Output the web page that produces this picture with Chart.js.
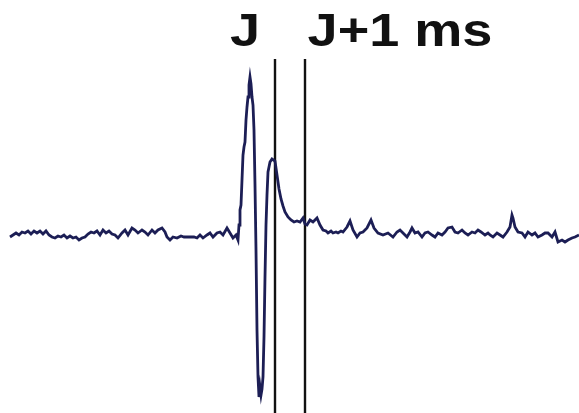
<!DOCTYPE html>
<html>
<head>
<meta charset="utf-8">
<script src="https://cdn.jsdelivr.net/npm/chart.js@4/dist/chart.umd.min.js"></script>
<style>
  html, body { margin: 0; padding: 0; background: #ffffff; }
  canvas { display: block; }
</style>
</head>
<body>
<canvas id="c" width="579" height="413"></canvas>
<script>
// Time positions (sample units) and amplitudes (baseline = 0)
const time = [
  10,13,16,19,22,25,28,31,34,37,40,43,46,49,52,55,58,61,64,67,70,73,76,79,82,85,88,91,94,97,
  100,103,106,109,112,115,118,122,125,128,132,135,138,142,145,148,152,155,158,162,165,167,170,173,177,181,184,187,190,194,
  197,200,203,207,210,213,217,220,223,227,230,233,236,238,
  239,240,241,242,243,244,245,246,247,248,249,250,251,252,253,254,255,256,257,258,259,260,261,262,263,264,265,266,267,268,
  270,272,275,277,279,281,283,285,288,291,294,297,
  300,303,305,307,310,313,317,320,323,326,328,331,333,336,338,341,343,347,350,353,357,360,363,367,371,374,378,383,388,393,
  397,400,403,407,410,412,415,418,422,425,428,432,435,438,442,445,448,452,455,458,462,465,468,472,475,478,481,485,488,490,
  493,497,500,503,507,510,512,513,515,518,522,525,528,532,535,538,542,545,548,552,555,558,562,565,568,572,575,579
];
const amplitude = [
  0,2,4,2,5,4,6,3,6,4,6,3,6,2,0,-1,1,0,2,-1,1,-1,0,-3,-1,0,3,5,4,6,
  2,7,4,6,3,2,-1,4,7,2,9,7,4,7,5,2,7,4,7,9,5,0,-3,0,-1,1,0,0,0,0,
  -1,2,-1,2,4,0,4,5,2,9,4,-1,2,-3,
  12,27,32,57,82,90,95,117,130,140,152,160,153,140,132,107,52,-13,-93,-140,-160,-150,-158,-152,-140,-100,-40,12,42,65,
  75,78,76,62,48,38,31,25,20,17,15,16,
  15,19,13,12,17,15,19,12,7,6,4,6,4,5,4,6,5,10,16,7,0,4,5,9,17,9,4,2,4,0,
  5,7,4,0,5,9,4,5,0,4,5,2,0,4,2,5,9,10,5,4,7,4,2,5,4,7,5,2,4,2,
  0,4,2,0,5,10,22,19,10,5,4,0,5,2,4,0,2,4,4,0,5,-5,-3,-5,-3,-1,0,2
];

// Marker lines: "J" point and "J+1 ms" point
const markerTime = [275, 305];
const markerTop = 178;
const markerBottom = -176;

// Label texts and their anchor positions (time, amplitude of text baseline)
const labelTexts = ['J', 'J+1 ms'];
const labelTime = [245, 400];
const labelAmp = [191, 191];

const tracePoints = time.map((t, i) => ({ x: t, y: amplitude[i] }));

const markerSets = markerTime.map(t => ({
  data: [{ x: t, y: markerTop }, { x: t, y: markerBottom }],
  borderColor: '#111111',
  borderWidth: 2.4,
  pointRadius: 0,
  tension: 0
}));

const labelPlugin = {
  id: 'labels',
  afterDraw(chart) {
    const ctx = chart.ctx;
    const xs = chart.scales.x, ys = chart.scales.y;
    ctx.save();
    ctx.fillStyle = '#111111';
    ctx.font = 'bold 47px "Liberation Sans", Arial, sans-serif';
    ctx.textAlign = 'center';
    ctx.textBaseline = 'alphabetic';
    labelTexts.forEach((txt, i) => {
      const px = xs.getPixelForValue(labelTime[i]);
      const py = ys.getPixelForValue(labelAmp[i]);
      ctx.save();
      ctx.translate(px, py);
      ctx.scale(1.15, 1);
      ctx.fillText(txt, 0, 0);
      ctx.restore();
    });
    ctx.restore();
  }
};

new Chart(document.getElementById('c'), {
  type: 'line',
  data: {
    datasets: [
      {
        data: tracePoints,
        borderColor: '#1c1e55',
        borderWidth: 2.8,
        pointRadius: 0,
        tension: 0,
        borderJoinStyle: 'miter'
      },
      ...markerSets
    ]
  },
  options: {
    responsive: false,
    animation: false,
    layout: { padding: 0 },
    plugins: { legend: { display: false }, tooltip: { enabled: false }, title: { display: false } },
    scales: {
      x: { type: 'linear', min: 0, max: 579, display: false },
      y: { type: 'linear', min: -176, max: 237, display: false }
    }
  },
  plugins: [labelPlugin]
});
</script>
</body>
</html>
